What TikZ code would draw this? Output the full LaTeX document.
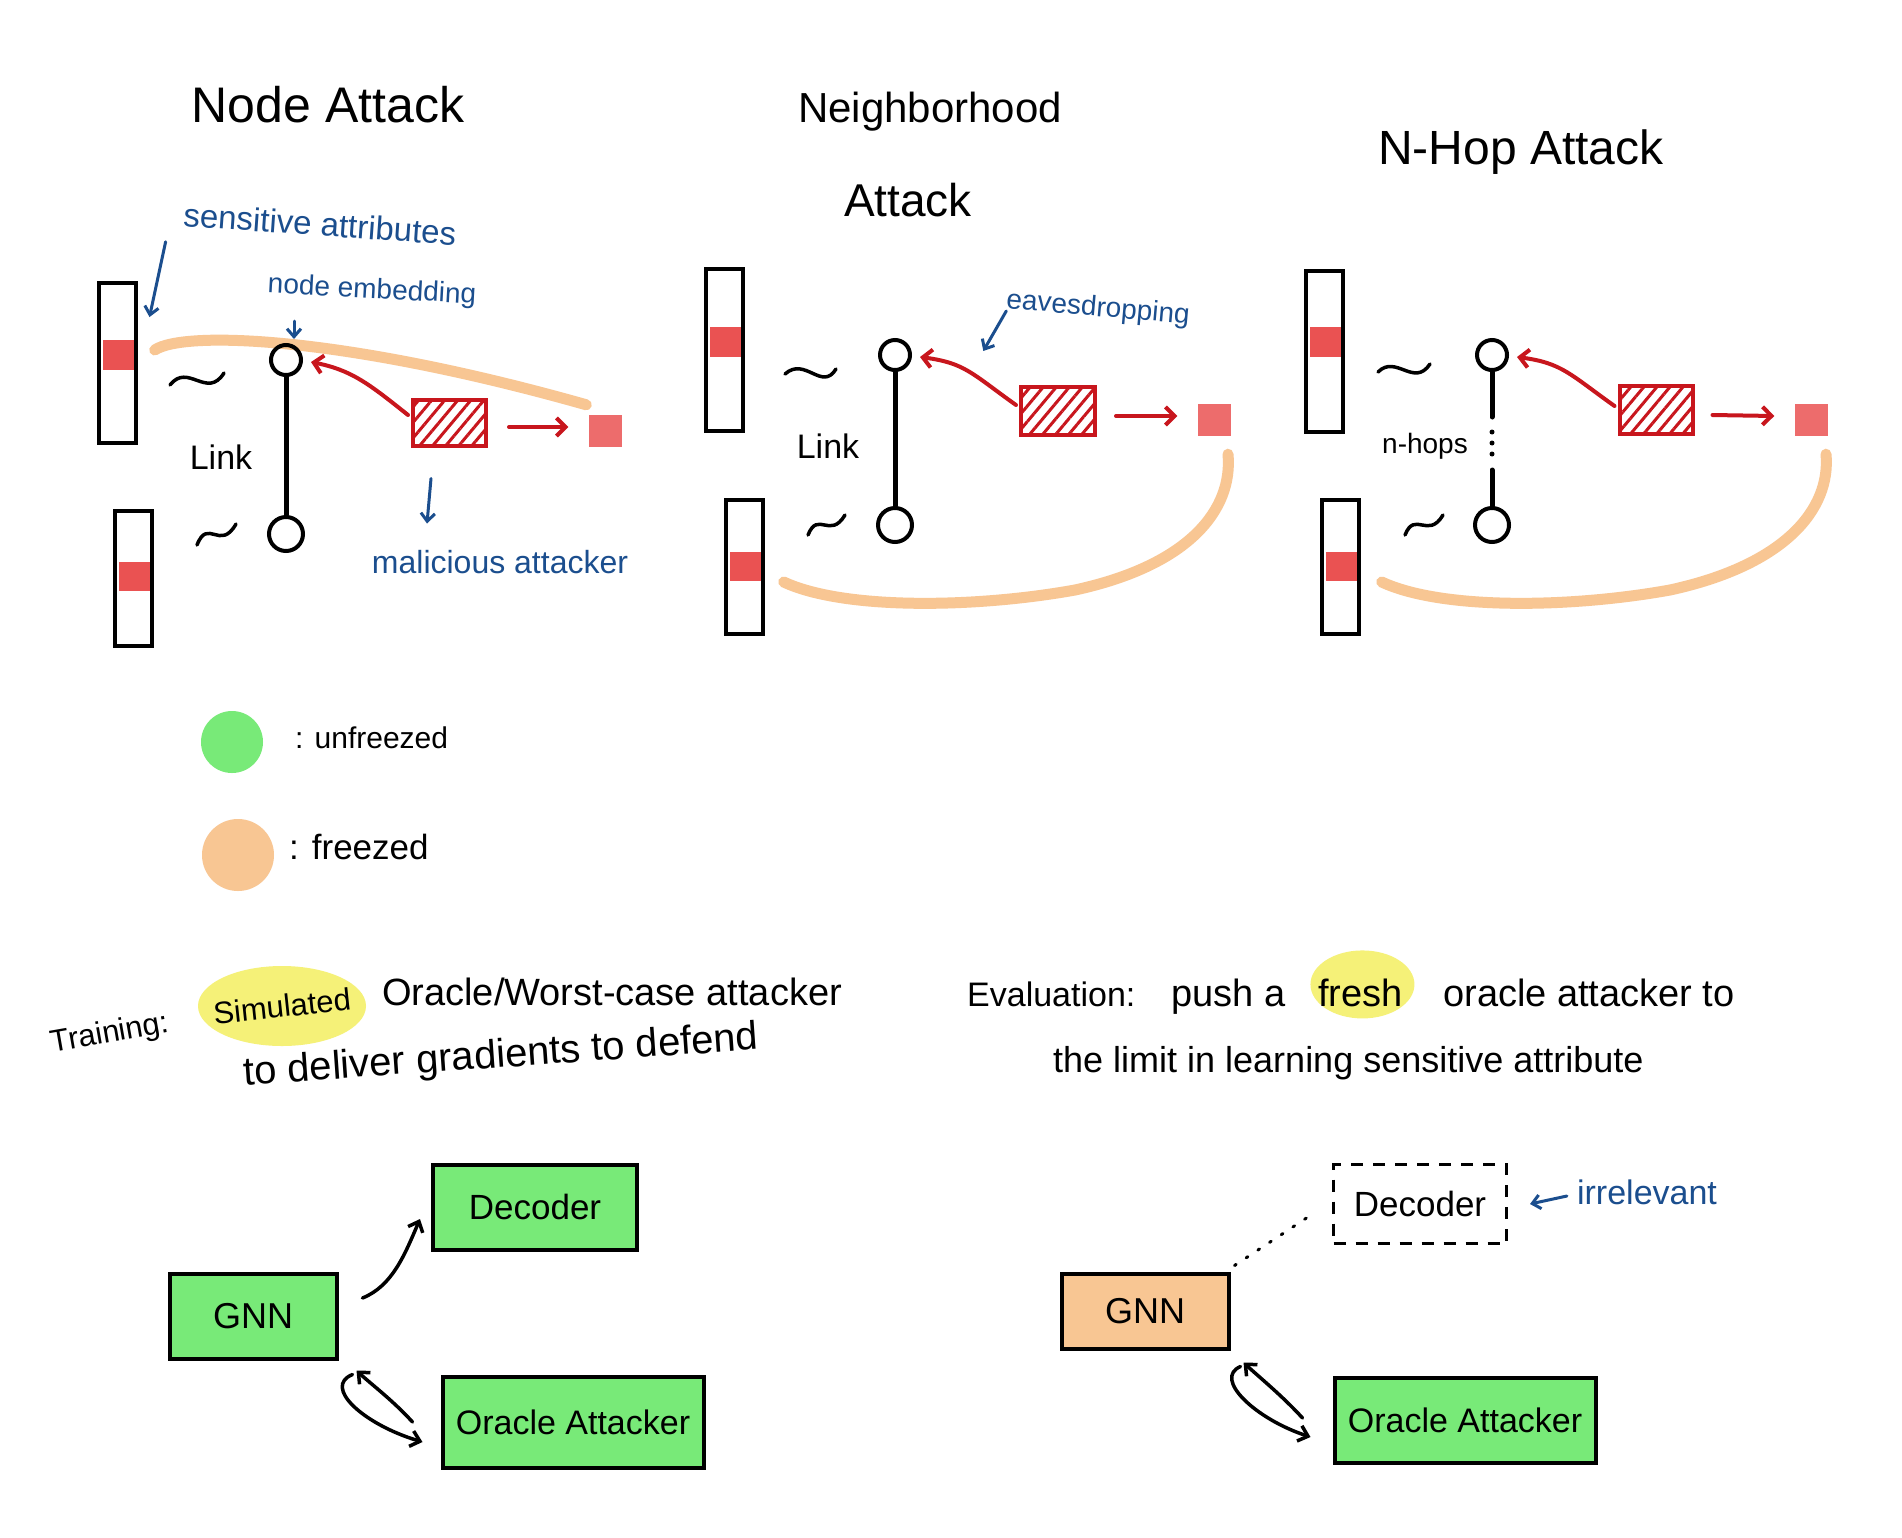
\documentclass[tikz,border=0pt]{standalone}
\usepackage{fontspec}
\setmainfont{Liberation Sans}
\usetikzlibrary{arrows.meta,patterns.meta,calc,backgrounds}
\definecolor{inkblue}{HTML}{1B4E8E}
\definecolor{atkred}{HTML}{C8161D}
\definecolor{patchred}{HTML}{EA5252}
\definecolor{frozen}{HTML}{F8C693}
\definecolor{unfrozen}{HTML}{78EA78}
\definecolor{hilite}{HTML}{F5F178}
\newcommand{\FS}[1]{\fontsize{#1}{#1}\selectfont}
\tikzset{
  ink/.style={line width=4pt, line cap=round, line join=round},
  vecbar/.style={draw, line width=4pt, minimum width=37pt, inner sep=0pt},
  patch/.style={fill=patchred, minimum width=33pt, minimum height=30pt, inner sep=0pt},
  smallpatch/.style={fill=patchred!85!white, minimum width=33pt, minimum height=32pt, inner sep=0pt},
  gnode/.style={circle, draw, line width=4pt, minimum size=30pt, inner sep=0pt},
  atkbox/.style={draw=atkred, line width=4pt, inner sep=0pt, pattern={Lines[angle=50,distance=10pt,line width=3pt]}, pattern color=atkred},
  redarr/.style={draw=atkred, line width=4pt, line cap=round, -{Straight Barb[length=9pt,width=18pt]}},
  bluearr/.style={draw=inkblue, line width=3pt, line cap=round, -{Straight Barb[length=8pt,width=14pt]}},
  blackarr/.style={draw=black, line width=3.5pt, line cap=round, -{Straight Barb[length=9pt,width=16pt]}},
  frozenline/.style={draw=frozen, line width=11pt, line cap=round},
  ttl/.style={inner sep=0pt, font=\FS{48}},
  bluetext/.style={inner sep=0pt, text=inkblue, font=\FS{32}},
  lbltext/.style={inner sep=0pt, font=\FS{34}},
  notetext/.style={inner sep=0pt, font=\FS{38}},
  compbox/.style={draw, line width=4pt, inner sep=0pt, font=\FS{35}},
  tildeink/.style={line width=3.5pt, line cap=round},
}
\begin{document}
\begin{tikzpicture}[x=1pt,y=-1pt]
\useasboundingbox (0,0) rectangle (1902,1537);
\begin{scope}[on background layer]
  \fill[white] (0,0) rectangle (1902,1537);
\end{scope}

% ---------- titles ----------
\node[ttl, font=\FS{50}] (t1) at (328,105) {Node Attack};
\node[ttl, font=\FS{42}] (t2a) at (930,112) {Neighborhood};
\node[ttl, font=\FS{46}] (t2b) at (908,200) {Attack};
\node[ttl] (t3) at (1521,152) {N-Hop Attack};

% ---------- panel 1: node attack ----------
\node[patch] (p1a) at (119,355) {};
\node[vecbar, minimum height=160pt] (v1a) at (117,363) {};
\node[patch, minimum height=29pt] (p1b) at (135,576) {};
\node[vecbar, minimum height=135pt] (v1b) at (133,578) {};
\node[smallpatch] (q1) at (605,431) {};
\draw[frozenline] ($(p1a.east)+(19,-5)$) .. controls +(30,-20) and +(-240,-68) .. ($(q1.north west)+(-2,-10)$);
\draw[tildeink] (170,385) .. controls (188,362) and (207,400) .. (224,373);
\draw[tildeink] (197,545) .. controls (208,517) and (220,552) .. (236,524);
\node[gnode] (n1a) at (286,360) {};
\node[gnode, minimum size=34pt] (n1b) at (286,534) {};
\draw[ink, line width=5pt] (n1a) -- (n1b);
\node[lbltext] (lk1) at (221,457) {Link};
\node[atkbox, minimum width=73pt, minimum height=46pt] (a1) at (449,423) {};
\draw[redarr] ($(a1.west)+(-3,-8)$) .. controls +(-40,-32) and +(40,8) .. ($(n1a.east)+(8,2)$);
\draw[redarr] ($(a1.east)+(22,4)$) -- ($(q1.west)+(-20,-4)$);
\node[bluetext, font=\FS{33}, rotate=-4] (sens) at (320,224) {sensitive attributes};
\draw[bluearr] ($(sens.south west)+(-17,15)$) -- ($(v1a.north east)+(12,36)$);
\node[bluetext, font=\FS{28}, rotate=-3] (emb) at (372,291) {node embedding};
\draw[bluearr] ($(n1a.north)+(8,-22)$) -- ($(n1a.north)+(8,-4)$);
\node[bluetext] (mal) at (500,562) {malicious attacker};
\draw[bluearr] ($(a1.south)+(-18,31)$) -- ($(a1.south)+(-22,76)$);

% ---------- panel 2: neighborhood attack ----------
\node[patch] (p2a) at (726,342) {};
\node[vecbar, minimum height=162pt] (v2a) at (724,350) {};
\node[patch, minimum height=29pt] (p2b) at (746,566) {};
\node[vecbar, minimum height=134pt] (v2b) at (744,567) {};
\node[smallpatch] (q2) at (1214,420) {};
\coordinate (m2) at (1075,590);
\draw[frozenline] ($(p2b.east)+(21,16)$) .. controls +(60,28) and +(-100,18) .. (m2) .. controls +(115,-25) and +(5,55) .. ($(q2.south)+(14,18)$);
\draw[tildeink] (785,374) .. controls (805,356) and (822,392) .. (836,369);
\draw[tildeink] (808,535) .. controls (818,510) and (830,540) .. (845,515);
\node[gnode] (n2a) at (895,355) {};
\node[gnode, minimum size=34pt] (n2b) at (895,525) {};
\draw[ink, line width=5pt] (n2a) -- (n2b);
\node[lbltext] (lk2) at (828,446) {Link};
\node[atkbox, minimum width=74pt, minimum height=48pt] (a2) at (1058,411) {};
\draw[redarr] ($(a2.west)+(-3,-6)$) .. controls +(-45,-32) and +(45,6) .. ($(n2a.east)+(8,2)$);
\draw[redarr] ($(a2.east)+(19,5)$) -- ($(q2.west)+(-20,-4)$);
\node[bluetext, font=\FS{28}, rotate=-5] (eav) at (1098,309) {eavesdropping};
\draw[bluearr] ($(eav.west)+(0,10)$) -- ($(eav.west)+(-23,50)$);

% ---------- panel 3: n-hop attack ----------
\node[patch] (p3a) at (1326,342) {};
\node[vecbar, minimum height=161pt] (v3a) at (1324,351) {};
\node[patch, minimum height=29pt] (p3b) at (1342,566) {};
\node[vecbar, minimum height=134pt] (v3b) at (1340,567) {};
\node[smallpatch] (q3) at (1811,420) {};
\coordinate (m3) at (1670,590);
\draw[frozenline] ($(p3b.east)+(23,16)$) .. controls +(60,28) and +(-100,18) .. (m3) .. controls +(115,-25) and +(5,55) .. ($(q3.south)+(15,18)$);
\draw[tildeink] (1378,372) .. controls (1396,354) and (1414,388) .. (1430,364);
\draw[tildeink] (1405,535) .. controls (1415,510) and (1428,540) .. (1443,515);
\node[gnode] (n3a) at (1492,355) {};
\node[gnode, minimum size=34pt] (n3b) at (1492,525) {};
\draw[ink, line width=5pt] (n3a) -- ($(n3a.south)+(0,45)$);
\draw[ink, line width=5pt] ($(n3b.north)+(0,-36)$) -- (n3b);
\fill (1492,432) circle (2.5) (1492,443) circle (2.5) (1492,454) circle (2.5);
\node[lbltext, font=\FS{28}] (nh) at (1425,446) {n-hops};
\node[atkbox, minimum width=73pt, minimum height=48pt] (a3) at (1656,410) {};
\draw[redarr] ($(a3.west)+(-3,-4)$) .. controls +(-45,-32) and +(45,6) .. ($(n3a.east)+(8,2)$);
\draw[redarr] ($(a3.east)+(18,5)$) -- ($(q3.west)+(-20,-4)$);

% ---------- legend ----------
\node[circle, fill=unfrozen, minimum size=62pt, inner sep=0pt] (lgu) at (232,742) {};
\node[notetext, font=\FS{30}, anchor=west] (lgut) at (295,738) {: unfreezed};
\node[circle, fill=frozen, minimum size=72pt, inner sep=0pt] (lgf) at (238,855) {};
\node[notetext, font=\FS{35}, anchor=west] (lgft) at (289,847) {: freezed};

% ---------- training text ----------
\node[notetext, font=\FS{31}, rotate=10] (trn) at (110,1034) {Training:};
\node[notetext, font=\FS{31}, rotate=6] (sim) at (282,1006) {Simulated};
\node[notetext, font=\FS{38}, anchor=west] (orw) at (382,992) {Oracle/Worst-case attacker};
\node[notetext, font=\FS{40}, rotate=4] (dlv) at (501,1057) {to deliver gradients to defend};

% ---------- evaluation text ----------
\node[notetext, font=\FS{34}, anchor=base west] (ev1) at (967,1006) {Evaluation:};
\node[notetext, anchor=base west] (evp) at (1171,1006) {push a};
\node[notetext, anchor=base west] (fresh) at (1318,1006) {fresh};
\node[notetext, anchor=base west] (ev2) at (1443,1006) {oracle attacker to};
\node[notetext, font=\FS{36}, anchor=base west] (ev3) at (1053,1072) {the limit in learning sensitive attribute};

\begin{scope}[on background layer]
  \fill[hilite] (sim) ellipse [x radius=84, y radius=40];
  \fill[hilite] ($(fresh.center)+(2,-8)$) ellipse [x radius=52, y radius=34];
\end{scope}

% ---------- training pipeline ----------
\node[compbox, fill=unfrozen, font=\FS{36}, minimum width=167pt, minimum height=85pt] (gnn1) at (253,1316) {GNN};
\node[compbox, fill=unfrozen, minimum width=204pt, minimum height=85pt] (dec1) at (535,1207) {Decoder};
\node[compbox, fill=unfrozen, font=\FS{34}, minimum width=261pt, minimum height=91pt] (orc1) at (573,1422) {Oracle Attacker};
\draw[blackarr] ($(gnn1.east)+(24,-18)$) .. controls +(30,-12) and +(-15,35) .. ($(dec1.west)+(-11,12)$);
\draw[blackarr] ($(gnn1.south east)+(14,14)$) .. controls +(-30,12) and +(-60,-18) .. ($(orc1.west)+(-18,20)$);
\draw[blackarr] ($(orc1.west)+(-28,0)$) .. controls +(-20,-22) and +(15,14) .. ($(gnn1.south east)+(18,10)$);

% ---------- evaluation pipeline ----------
\node[compbox, fill=frozen, font=\FS{36}, minimum width=167pt, minimum height=75pt] (gnn2) at (1145,1311) {GNN};
\node[compbox, line width=3pt, dash pattern=on 12pt off 10pt, minimum width=173pt, minimum height=79pt] (dec2) at (1420,1204) {Decoder};
\node[compbox, fill=unfrozen, font=\FS{34}, minimum width=261pt, minimum height=85pt] (orc2) at (1465,1420) {Oracle Attacker};
\draw[line width=3pt, line cap=round, dash pattern=on 2pt off 12pt] ($(gnn2.north east)+(4,-6)$) -- ($(dec2.west)+(-18,9)$);
\draw[blackarr] ($(gnn2.south east)+(10,16)$) .. controls +(-28,12) and +(-55,-18) .. ($(orc2.west)+(-22,17)$);
\draw[blackarr] ($(orc2.west)+(-30,-2)$) .. controls +(-20,-22) and +(15,14) .. ($(gnn2.south east)+(13,12)$);
\node[bluetext, font=\FS{34}] (irr) at (1647,1192) {irrelevant};
\draw[bluearr] ($(irr.west)+(-10,4)$) -- ($(dec2.east)+(22,0)$);
\end{tikzpicture}
\end{document}
